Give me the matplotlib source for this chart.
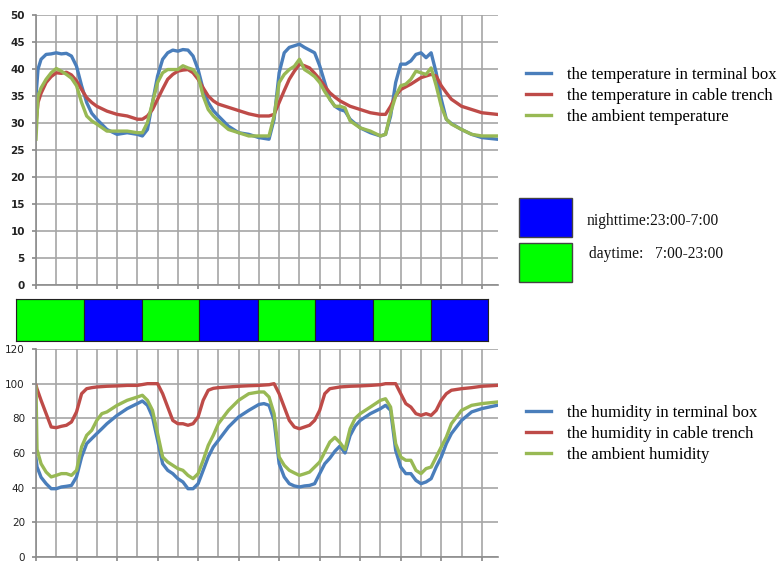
import numpy as np
import matplotlib
matplotlib.use("Agg")
import matplotlib.pyplot as plt
from matplotlib.patches import Rectangle

W, H = 778, 563

# x positions in chart grid units (one vertical gridline per unit)
temp_x = [0, 0.1, 0.25, 0.5, 0.75, 1, 1.25, 1.5, 1.75, 2, 2.25, 2.5, 2.75, 3, 3.5, 4, 4.5,
          5, 5.25, 5.5, 5.75, 6, 6.25, 6.5, 6.75, 7, 7.25, 7.5, 7.75, 8, 8.25, 8.5, 8.75,
          9, 9.5, 10, 10.5, 11, 11.5, 11.75, 12, 12.25, 12.5, 12.75, 13, 13.25, 13.5, 13.75,
          14, 14.25, 14.5, 14.75, 15, 15.25, 15.5, 16, 16.5, 17, 17.25, 17.5, 17.75,
          18, 18.25, 18.5, 18.75, 19, 19.25, 19.5, 19.75, 20, 20.25, 20.5, 21, 21.5, 22, 22.75]

temp_box = [35.0, 40.0, 41.8, 42.7, 42.8, 43.0, 42.8, 42.9, 42.4, 40.5, 36.9, 33.8, 31.8, 30.7, 28.8, 27.9, 28.2,
            27.9, 27.6, 28.8, 33.8, 38.7, 41.8, 43.0, 43.5, 43.3, 43.6, 43.5, 42.4, 39.9, 36.2, 33.8, 32.3,
            31.3, 29.4, 28.2, 27.9, 27.3, 27.0, 30.7, 39.3, 43.0, 44.0, 44.3, 44.6, 44.0, 43.5, 43.0,
            40.6, 37.5, 34.4, 33.1, 32.5, 32.2, 30.7, 29.1, 28.2, 27.6, 27.9, 31.3, 37.5,
            40.9, 40.9, 41.5, 42.7, 43.0, 42.1, 43.0, 39.3, 34.4, 30.7, 29.9, 28.8, 27.9, 27.3, 27.0]

temp_trench = [30.0, 33.8, 35.5, 37.5, 38.6, 39.3, 39.2, 39.4, 38.9, 37.8, 36.2, 34.7, 33.8, 33.1, 32.2, 31.6, 31.3,
               30.7, 30.7, 31.3, 32.5, 34.4, 36.3, 38.1, 39.0, 39.6, 39.8, 39.9, 39.3, 38.1, 36.5, 35.0, 34.1,
               33.5, 32.9, 32.3, 31.7, 31.3, 31.3, 31.6, 33.8, 36.0, 38.1, 39.6, 40.9, 40.6, 40.2, 39.2,
               38.1, 36.8, 35.6, 34.8, 34.1, 33.6, 33.1, 32.5, 31.9, 31.6, 31.6, 33.1, 35.0,
               36.2, 36.7, 37.2, 37.8, 38.4, 38.7, 39.0, 38.7, 36.9, 35.6, 34.4, 33.1, 32.5, 31.9, 31.6]

temp_ambient = [27.0, 35.0, 36.5, 38.1, 39.3, 40.1, 39.6, 39.0, 38.3, 36.9, 33.8, 31.3, 30.4, 29.8, 28.5, 28.5, 28.5,
                28.2, 28.2, 30.1, 33.8, 37.5, 39.3, 39.9, 39.9, 39.9, 40.6, 40.2, 39.9, 38.7, 35.0, 32.5, 31.3,
                30.4, 28.8, 28.2, 27.6, 27.6, 27.6, 31.3, 37.5, 39.0, 39.9, 40.5, 41.8, 39.9, 39.3, 38.6,
                37.5, 35.8, 34.4, 33.1, 33.1, 32.8, 30.4, 29.1, 28.5, 27.6, 27.9, 31.9, 35.0,
                36.9, 37.2, 38.1, 39.6, 39.3, 39.0, 40.2, 36.9, 33.1, 30.7, 29.8, 28.8, 27.9, 27.6, 27.6]

hum_x = [0, 0.05, 0.25, 0.5, 0.75, 1, 1.25, 1.5, 1.75, 2, 2.25, 2.5, 2.75, 3, 3.25, 3.5, 4, 4.5,
         5, 5.25, 5.5, 5.75, 6, 6.25, 6.5, 6.75, 7, 7.25, 7.5, 7.75, 8, 8.25, 8.5, 8.75, 9, 9.5,
         10, 10.5, 11, 11.25, 11.5, 11.75, 12, 12.25, 12.5, 12.75, 13, 13.25, 13.5, 13.75,
         14, 14.25, 14.5, 14.75, 15, 15.25, 15.5, 15.75, 16, 16.5, 17, 17.25, 17.5, 17.75,
         18, 18.25, 18.5, 18.75, 19, 19.25, 19.5, 19.75, 20, 20.25, 20.5, 21, 21.5, 22, 22.75]

hum_box = [57, 52, 46, 42.3, 39.4, 39.4, 40.4, 40.8, 41.3, 46.2, 57.7, 65.4, 68.3, 71.2, 74.0, 76.9, 81.7, 85.6,
           88.5, 90.0, 87.5, 80.8, 67.3, 53.8, 50.0, 48.1, 45.2, 43.3, 39.4, 39.4, 42.3, 50.0, 57.7, 63.5, 67.3, 75.0,
           80.8, 84.6, 88.0, 88.5, 87.5, 78.8, 53.8, 46.2, 42.3, 41.0, 40.4, 41.0, 41.3, 42.3,
           48.1, 53.8, 57.0, 61.0, 64.0, 60.0, 70.0, 75.5, 78.8, 82.7, 85.6, 87.5, 84.6, 61.5,
           51.9, 48.1, 48.1, 44.2, 42.3, 43.3, 45.2, 51.9, 57.7, 65.4, 71.2, 78.8, 83.7, 85.6, 87.5]

hum_trench = [99, 97, 90.4, 82.7, 75, 74.6, 75.4, 76, 77.9, 83.7, 94.2, 97.1, 97.7, 98.1, 98.3, 98.5, 98.7, 99,
              99, 99.5, 100, 100, 100, 94.2, 86.5, 78.8, 76.9, 76.9, 76, 76.9, 80.8, 90.4, 96.2, 97.3, 97.7, 98.1,
              98.5, 98.8, 99, 99.2, 99.4, 100, 94.2, 86.5, 78.8, 75, 74, 75, 76, 78.8,
              84.6, 94.2, 97.1, 97.6, 98.1, 98.3, 98.5, 98.6, 98.7, 99, 99.4, 100, 100, 100,
              94.2, 88.5, 86.5, 82.7, 81.7, 82.7, 81.7, 84.6, 90.4, 94.2, 96.2, 97.1, 97.7, 98.5, 99]

hum_ambient = [98, 62, 53.8, 49, 46.2, 47.1, 48.1, 48.1, 47.1, 50, 63.5, 70.2, 73.1, 78.8, 82.7, 83.7, 87.5, 90.4,
               92.3, 93.3, 90.4, 84.6, 71.2, 57.7, 54.8, 52.9, 51, 50, 47.1, 45.2, 48.1, 55.8, 64.4, 70.2, 76.9, 84.6,
               90.4, 94.2, 95.2, 95.2, 92.3, 82.7, 57.7, 52.9, 50, 48.5, 47.1, 48, 49, 51.9,
               54.8, 60.6, 66.3, 69, 66, 62, 74, 80, 82.7, 86.5, 90.4, 91.3, 86.5, 65.4,
               57.7, 55.8, 55.8, 50, 48.1, 51, 51.9, 57.7, 63.5, 69.2, 76.9, 84.6, 87.5, 88.5, 89.4]

# day / night strip (same grid units as the charts)
period_edges = [-0.94, 2.41, 5.27, 8.08, 10.99, 13.79, 16.65, 19.51, 22.32]
period_kind = ['day', 'night', 'day', 'night', 'day', 'night', 'day', 'night']

temp_labels = ['the temperature in terminal box', 'the temperature in cable trench', 'the ambient temperature']
hum_labels = ['the humidity in terminal box', 'the humidity in cable trench', 'the ambient humidity']

BLUE = '#4a7ebb'
RED = '#be4b48'
GREEN = '#98b954'
GRID = '#a6a6a6'
DAY = '#00ff00'
NIGHT = '#0000ff'


def px_axes(fig, left, top, right, bottom):
    return fig.add_axes([left / W, 1 - bottom / H, (right - left) / W, (bottom - top) / H])


def style_panel(ax, ymax, ystep, bold):
    ax.set_xlim(0, 22.8)
    ax.set_ylim(0, ymax)
    ax.set_xticks(np.arange(0, 23, 2))
    ax.set_xticks(np.arange(0, 23, 1), minor=True)
    ax.set_xticklabels([])
    ax.set_yticks(np.arange(0, ymax + 1, ystep))
    ax.grid(True, which='both', axis='x', color=GRID, lw=1.2)
    ax.grid(True, which='major', axis='y', color=GRID, lw=1.2)
    ax.tick_params(axis='x', which='major', length=3, width=1.2, color='#888888')
    ax.tick_params(axis='x', which='minor', length=0)
    ax.tick_params(axis='y', length=3, width=1.2, color='#888888', pad=5,
                   labelsize=7.5, labelcolor='#222222')
    if bold:
        for t in ax.get_yticklabels():
            t.set_fontweight('bold')
    for s in ['top', 'right']:
        ax.spines[s].set_visible(False)
    for s in ['left', 'bottom']:
        ax.spines[s].set_color('#8c8c8c')
        ax.spines[s].set_linewidth(1.2)
    ax.set_axisbelow(True)


fig = plt.figure(figsize=(W / 100, H / 100), dpi=100)

ax_t = px_axes(fig, 36, 15, 498, 285)
ax_t.plot(temp_x, temp_box, color=BLUE, lw=2.4, label=temp_labels[0])
ax_t.plot(temp_x, temp_trench, color=RED, lw=2.4, label=temp_labels[1])
ax_t.plot(temp_x, temp_ambient, color=GREEN, lw=2.4, label=temp_labels[2])
style_panel(ax_t, 50, 5, True)

ax_h = px_axes(fig, 36, 349, 498, 557)
ax_h.plot(hum_x, hum_box, color=BLUE, lw=2.4, label=hum_labels[0])
ax_h.plot(hum_x, hum_trench, color=RED, lw=2.4, label=hum_labels[1])
ax_h.plot(hum_x, hum_ambient, color=GREEN, lw=2.4, label=hum_labels[2])
style_panel(ax_h, 120, 20, False)

# day/night strip
ax_b = px_axes(fig, 16, 299, 488, 341)
for i, kind in enumerate(period_kind):
    ax_b.axvspan(period_edges[i], period_edges[i + 1], color=DAY if kind == 'day' else NIGHT,
                 ec='#222222', lw=0.8)
ax_b.set_xlim(period_edges[0], period_edges[-1])
ax_b.set_ylim(0, 1)
ax_b.set_xticks([])
ax_b.set_yticks([])
for s in ax_b.spines.values():
    s.set_color('#222222')
    s.set_linewidth(0.8)

serif = ['Liberation Serif', 'DejaVu Serif']
leg_kw = dict(frameon=False, prop={'family': serif, 'size': 12}, handlelength=1.5,
              handletextpad=0.95, labelspacing=0.3, borderpad=0, borderaxespad=0)
fig.legend(handles=ax_t.get_lines(), loc='upper left', bbox_to_anchor=(526 / W, 1 - 67 / H), **leg_kw)
fig.legend(handles=ax_h.get_lines(), loc='upper left', bbox_to_anchor=(526 / W, 1 - 405 / H), **leg_kw)

# day / night key
ov = fig.add_axes([0, 0, 1, 1])
ov.set_xlim(0, W)
ov.set_ylim(H, 0)
ov.axis('off')
ov.add_patch(Rectangle((519, 198), 53, 39, fc=NIGHT, ec='#444444', lw=1))
ov.add_patch(Rectangle((519, 243), 53, 39, fc=DAY, ec='#444444', lw=1))
ov.text(587, 221, 'nighttime:23:00-7:00', family=serif, size=11.2, va='center', ha='left', color='#111111')
ov.text(589, 254, 'daytime:   7:00-23:00', family=serif, size=11.2, va='center', ha='left', color='#111111')

fig.savefig('out.png', dpi=100)
